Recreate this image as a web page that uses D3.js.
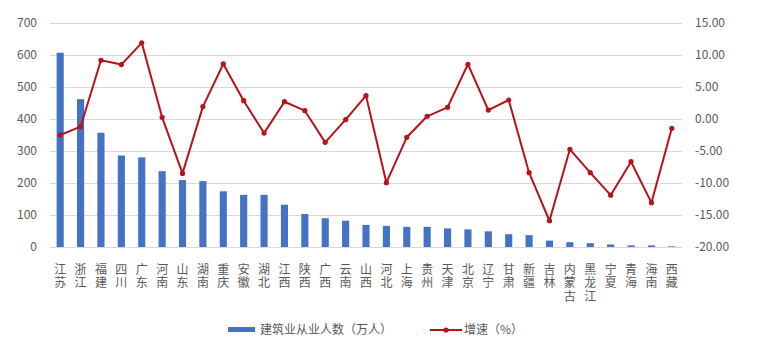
<!DOCTYPE html>
<html>
<head>
<meta charset="utf-8">
<script src="https://cdn.jsdelivr.net/npm/d3@7"></script>
<style>
  body { margin: 0; background: #fff; }
  text { font-family: "Noto Sans CJK SC", "Noto Sans", sans-serif; }
</style>
</head>
<body>
<div id="chart"></div>
<script>
// ---------- data ----------
const provinces = ["江苏","浙江","福建","四川","广东","河南","山东","湖南","重庆","安徽","湖北","江西","陕西","广西","云南","山西",
  "河北","上海","贵州","天津","北京","辽宁","甘肃","新疆","吉林","内蒙古","黑龙江","宁夏","青海","海南","西藏"];
const workers = [607, 462, 357, 286, 280, 237, 209, 206, 174, 163, 163, 132, 103, 90, 82, 69,
  66, 63, 63, 58, 55, 49, 40, 37, 20, 15, 12, 8, 5, 5, 2];
const growth = [-2.5, -1.2, 9.17, 8.5, 11.9, 0.26, -8.5, 1.93, 8.6, 2.86, -2.2, 2.7, 1.3, -3.65, -0.1, 3.65,
  -9.95, -2.86, 0.42, 1.82, 8.55, 1.4, 2.97, -8.39, -15.9, -4.74, -8.39, -11.9, -6.67, -13.07, -1.46];
const leftTicks = [0, 100, 200, 300, 400, 500, 600, 700];
const rightTicks = [-20, -15, -10, -5, 0, 5, 10, 15];
const barName = "建筑业从业人数（万人）";
const lineName = "增速（%）";

// ---------- layout ----------
const width = 759, height = 353;
const plot = { left: 50, right: 682, top: 23, bottom: 247 };
const barColor = "#4472C4", lineColor = "#B8121B";
const textColor = "#595959";

const svg = d3.select("#chart").append("svg")
  .attr("width", width)
  .attr("height", height);

const x = d3.scaleBand()
  .domain(provinces)
  .range([plot.left, plot.right])
  .paddingInner(0.65)
  .paddingOuter(0.325);

const yL = d3.scaleLinear().domain([0, 700]).range([plot.bottom, plot.top]);
const yR = d3.scaleLinear().domain([-20, 15]).range([plot.bottom, plot.top]);

// Grid lines
svg.append("g")
  .attr("transform", `translate(${plot.left},0)`)
  .call(d3.axisLeft(yL).tickValues(leftTicks).tickSize(-(plot.right - plot.left)).tickFormat(""))
  .call(g => g.select(".domain").remove())
  .selectAll("line")
  .attr("stroke", "#d9d9d9");

// Left axis
svg.append("g")
  .attr("transform", `translate(${plot.left - 13},0)`)
  .call(d3.axisLeft(yL).tickValues(leftTicks).tickSize(0))
  .call(g => g.select(".domain").remove())
  .selectAll("text")
  .attr("x", 0)
  .style("fill", textColor)
  .style("font-size", "12px");

// Right axis
svg.append("g")
  .attr("transform", `translate(${plot.right + 13},0)`)
  .call(d3.axisRight(yR).tickValues(rightTicks).tickSize(0).tickFormat(d => d.toFixed(2)))
  .call(g => g.select(".domain").remove())
  .selectAll("text")
  .attr("x", 0)
  .style("fill", textColor)
  .style("font-size", "12px");

// Bars
svg.selectAll(".bar")
  .data(provinces)
  .enter().append("rect")
  .attr("class", "bar")
  .attr("x", d => x(d))
  .attr("y", (d, i) => yL(workers[i]))
  .attr("width", x.bandwidth())
  .attr("height", (d, i) => yL(0) - yL(workers[i]))
  .attr("fill", barColor);

// Line
const cx = d => x(d) + x.bandwidth() / 2;
const line = d3.line()
  .x(d => cx(d))
  .y((d, i) => yR(growth[i]));

svg.append("path")
  .datum(provinces)
  .attr("fill", "none")
  .attr("stroke", lineColor)
  .attr("stroke-width", 2)
  .attr("stroke-linejoin", "round")
  .attr("d", line);

svg.selectAll(".dot")
  .data(provinces)
  .enter().append("circle")
  .attr("cx", d => cx(d))
  .attr("cy", (d, i) => yR(growth[i]))
  .attr("r", 2.6)
  .attr("fill", lineColor);

// Category labels written top-to-bottom
svg.selectAll(".cat")
  .data(provinces)
  .enter().append("text")
  .attr("class", "cat")
  .attr("x", d => cx(d))
  .attr("y", 263)
  .style("writing-mode", "vertical-rl")
  .style("letter-spacing", "1.5px")
  .text(d => d)
  .style("fill", textColor)
  .style("font-size", "12px");

// Legend
const legend = svg.append("g");
legend.append("rect")
  .attr("x", 228).attr("y", 327)
  .attr("width", 27).attr("height", 5)
  .attr("fill", barColor);
legend.append("text")
  .attr("x", 260).attr("y", 334)
  .text(barName)
  .style("fill", textColor)
  .style("font-size", "12px");

legend.append("line")
  .attr("x1", 430).attr("x2", 462)
  .attr("y1", 330).attr("y2", 330)
  .attr("stroke", lineColor)
  .attr("stroke-width", 2);
legend.append("circle")
  .attr("cx", 446).attr("cy", 330).attr("r", 2.6)
  .attr("fill", lineColor);
legend.append("text")
  .attr("x", 464).attr("y", 334)
  .text(lineName)
  .style("fill", textColor)
  .style("font-size", "12px");
</script>
</body>
</html>
